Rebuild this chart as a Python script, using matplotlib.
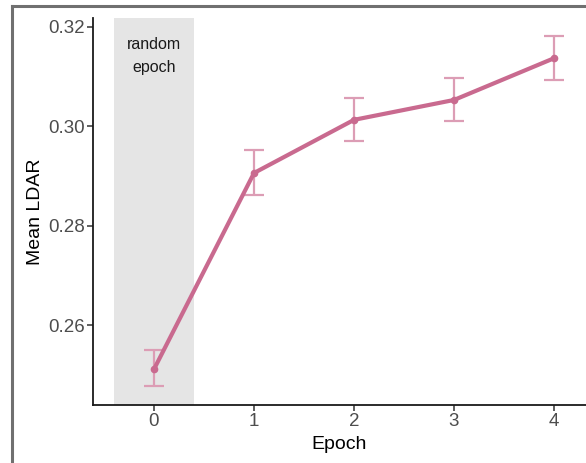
import matplotlib.pyplot as plt
from matplotlib.lines import Line2D

plt.rcParams['font.family'] = ['Liberation Sans', 'DejaVu Sans']

# data
epochs = [0, 1, 2, 3, 4]
mean_ldar = [0.2511, 0.2906, 0.3013, 0.3053, 0.3137]
err_lo = [0.2477, 0.2861, 0.2970, 0.3010, 0.3094]
err_hi = [0.2549, 0.2952, 0.3056, 0.3098, 0.3181]
yticks = [0.26, 0.28, 0.30, 0.32]

line_col = '#c96a8f'
err_col = '#dc9db5'

fig = plt.figure(figsize=(5.86, 4.63), dpi=100)
ax = fig.add_axes([0.1587, 0.1253, 0.8413, 0.8358])

# shaded "random epoch" band
ax.axvspan(-0.4, 0.4, color='#e5e5e5', lw=0, zorder=0)
ax.text(0, 0.3142, 'random\nepoch', ha='center', va='center',
        fontsize=11.5, linespacing=1.7, color='#1a1a1a')

lo = [m - l for m, l in zip(mean_ldar, err_lo)]
hi = [h - m for m, h in zip(mean_ldar, err_hi)]
ax.errorbar(epochs, mean_ldar, yerr=[lo, hi], fmt='none', ecolor=err_col,
            elinewidth=1.6, capsize=7, capthick=1.6, zorder=2)
ax.plot(epochs, mean_ldar, color=line_col, lw=3, marker='o', ms=4.5, zorder=3)

ax.set_xlim(-0.61, 4.32)
ax.set_ylim(0.2439, 0.3218)
ax.set_xticks(epochs)
ax.set_yticks(yticks)
ax.set_yticklabels([f'{v:.2f}' for v in yticks])

for s in ['top', 'right']:
    ax.spines[s].set_visible(False)
for s in ['left', 'bottom']:
    ax.spines[s].set_linewidth(1.3)
    ax.spines[s].set_color('#1a1a1a')
ax.tick_params(labelsize=13.5, labelcolor='#4d4d4d', length=4, width=1.1,
               color='#333333', pad=2)

ax.set_xlabel('Epoch', fontsize=14)
ax.set_ylabel('Mean LDAR', fontsize=14)
ax.xaxis.set_label_coords(0.5, -0.079)
ax.yaxis.set_label_coords(-0.10, 0.5)

# frame from the screenshot
fig.add_artist(Line2D([0.0205, 0.0205], [0, 0.987], color='#707070', lw=2.2))
fig.add_artist(Line2D([0.0205, 1], [0.987, 0.987], color='#707070', lw=2.2))

fig.savefig('out.png', dpi=100)
